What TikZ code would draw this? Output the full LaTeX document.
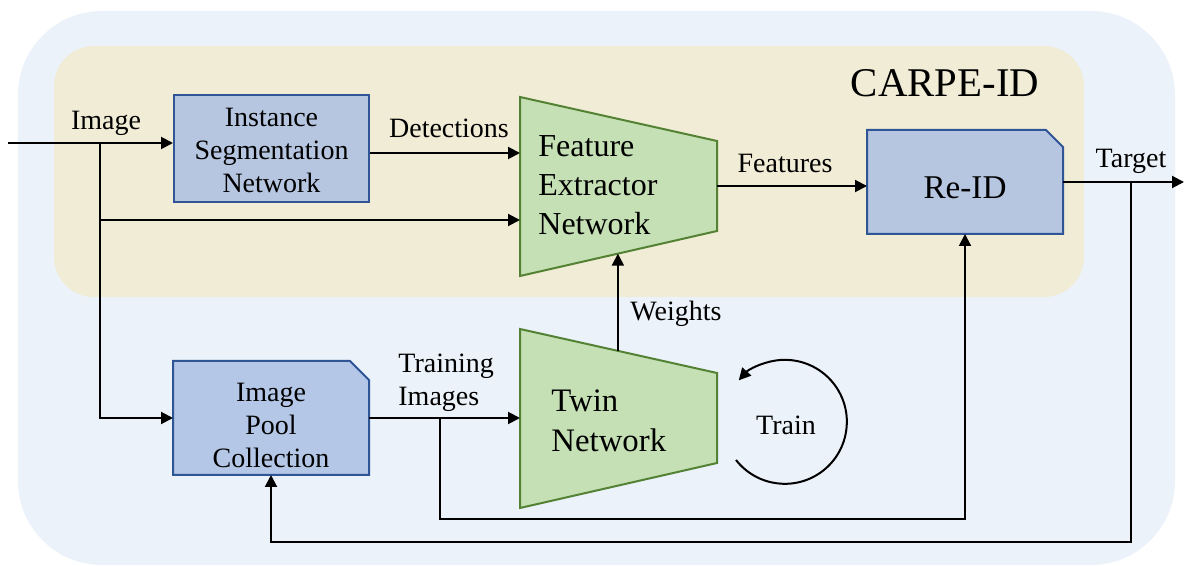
\documentclass[tikz,border=0pt]{standalone}
\usepackage{fontspec}
\setmainfont{Liberation Serif}
\usetikzlibrary{arrows.meta,calc}
\definecolor{outerbg}{RGB}{235,242,250}
\definecolor{innerbg}{RGB}{241,236,213}
\definecolor{boxfill}{RGB}{182,198,224}
\definecolor{poolfill}{RGB}{180,199,231}
\definecolor{boxline}{RGB}{47,85,151}
\definecolor{netfill}{RGB}{197,224,180}
\definecolor{netline}{RGB}{84,130,53}
\begin{document}
\begin{tikzpicture}[x=0.5pt,y=-0.5pt,
  arr/.style={line width=1pt,-{Triangle[length=6pt,width=6pt]}},
  blk/.style={draw=boxline,line width=1pt,fill=boxfill},
  poolblk/.style={draw=boxline,line width=1pt,fill=poolfill},
  net/.style={draw=netline,line width=1pt,fill=netfill},
  lbl/.style={font=\fontsize{14}{16.5}\selectfont, inner sep=0pt},
  boxtxt/.style={font=\fontsize{14}{16.5}\selectfont, inner sep=0pt, align=center},
  nettxt/.style={font=\fontsize{16}{19.5}\selectfont, inner sep=0pt, align=left, anchor=west},
  anchorbox/.style={inner sep=0pt, outer sep=0pt}]
\useasboundingbox (0,0) rectangle (1184,566);
% backgrounds
\fill[outerbg, rounded corners=42pt] (18,11) rectangle (1175,565);
\fill[innerbg, rounded corners=20pt] (54,46) rectangle (1084,297);
\node[font=\fontsize{20.4}{24}\selectfont, anchor=base, inner sep=0pt] (title) at (945,97) {CARPE-ID};

% Instance segmentation
\node[blk, boxtxt, minimum width=97.5pt, minimum height=53.5pt] (inst) at (271.5,148.5) {};
\node[boxtxt] (insttxt) at (271.5,150) {Instance\\Segmentation\\Network};

% Re-ID
\node[anchorbox, minimum width=98pt, minimum height=52pt] (reid) at (965,182) {};
\draw[blk] (reid.south west) -- (reid.north west) -- ([xshift=-8.5pt]reid.north east) -- ([yshift=-8.5pt]reid.north east) -- (reid.south east) -- cycle;
\node[font=\fontsize{16.6}{19}\selectfont, inner sep=0pt] (reidtxt) at (965,188) {Re-ID};

% Image pool
\node[anchorbox, minimum width=98pt, minimum height=57pt] (pool) at (271,418) {};
\draw[poolblk] (pool.south west) -- (pool.north west) -- ([xshift=-9.5pt]pool.north east) -- ([yshift=-9.5pt]pool.north east) -- (pool.south east) -- cycle;
\node[boxtxt] (pooltxt) at (271,425) {Image\\Pool\\Collection};

% Feature extractor
\draw[net] (520,97) coordinate (feTL) -- (717,141) coordinate (feTR) -- (717,231) coordinate (feBR) -- (520,276) coordinate (feBL) -- cycle;
\node[nettxt] (fe) at (538,185) {Feature\\Extractor\\Network};

% Twin network
\draw[net] (520,329) coordinate (twTL) -- (717,373) coordinate (twTR) -- (717,463) coordinate (twBR) -- (520,508) coordinate (twBL) -- cycle;
\node[nettxt, font=\fontsize{16.4}{20}\selectfont] (tw) at (551,421) {Twin\\Network};

% connectors
\coordinate (in) at (8,143);
\coordinate (b1) at (100,143);
\coordinate (b2) at (100,220);
\draw[arr] (in) -- (in -| inst.west);
\draw[arr] (b1) |- (pool.west);
\draw[arr] (b2) -- (b2 -| feTL);
\draw[arr] ([yshift=-2.25pt]inst.east) -- ([yshift=-2.25pt]inst.east -| feTL);
\coordinate (feo) at (717,186);
\draw[arr] (feo) -- (feo -| reid.west);
\coordinate (out) at (1184,182);
\draw[arr] (reid.east) -- (out);
\coordinate (t1) at (1131,182);
\coordinate (fb) at (1131,542);
\draw[arr] (t1) -- (fb) -| (pool.south);
\draw[arr] (pool.east) -- (pool.east -| twTL);
\coordinate (t2) at (440,418);
\coordinate (t2b) at (440,519);
\draw[arr] (t2) -- (t2b) -| (reid.south);
\draw[arr] ($(twTL)!0.497!(twTR)$) -- ($(feBL)!0.497!(feBR)$);
\coordinate (trs) at (736,460);
\draw[arr] (trs) arc[start angle=218, end angle=498, radius=31pt];

% labels
\node[lbl, anchor=base] (limg) at (106,130) {Image};
\node[lbl, anchor=base] (ldet) at (449,138) {Detections};
\node[lbl, anchor=base] (lfeat) at (785,173) {Features};
\node[lbl, anchor=base] (ltgt) at (1131,168) {Target};
\node[lbl, anchor=base west] (lw) at (630,321) {Weights};
\node[lbl, anchor=west, align=left] (ltr) at (398,383) {Training\\Images};
\node[lbl] (ltrain) at (786,425) {Train};
\end{tikzpicture}
\end{document}
